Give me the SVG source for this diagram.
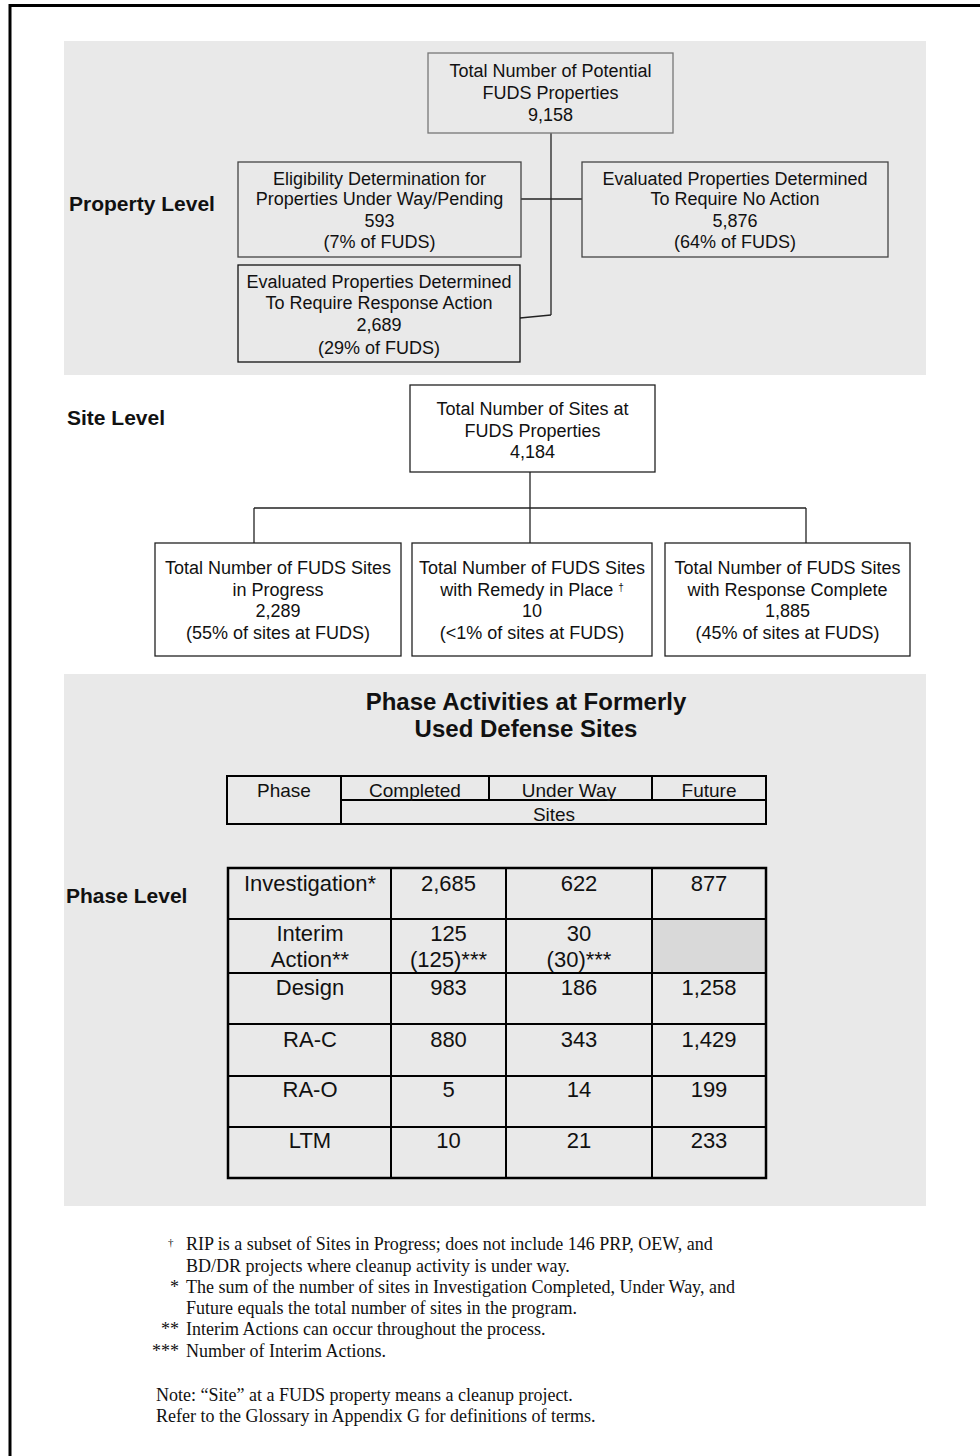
<svg xmlns="http://www.w3.org/2000/svg" width="980" height="1456" viewBox="0 0 980 1456">
<style>
.band{fill:#e9e9e9}
.box{fill:none;stroke:#444;stroke-width:1.3}
.wbox{fill:#fff;stroke:#222;stroke-width:1.3}
.t{font-family:"Liberation Sans",Arial,sans-serif;font-size:18px;fill:#111;text-anchor:middle}
.lbl{font-family:"Liberation Sans",Arial,sans-serif;font-size:21px;font-weight:bold;fill:#111}
.ttl{font-family:"Liberation Sans",Arial,sans-serif;font-size:24px;font-weight:bold;fill:#111;text-anchor:middle}
.th{font-family:"Liberation Sans",Arial,sans-serif;font-size:19px;fill:#111;text-anchor:middle}
.td{font-family:"Liberation Sans",Arial,sans-serif;font-size:22px;fill:#111;text-anchor:middle}
.fn{font-family:"Liberation Serif","Times New Roman",serif;font-size:18px;fill:#111}
.ln{stroke:#222;stroke-width:1.3;fill:none}
.tl{stroke:#000;stroke-width:2;fill:none}
</style>
<rect width="980" height="1456" fill="#fff"/>
<path d="M10 1456 V5.5 H980" fill="none" stroke="#000" stroke-width="3"/>
<rect class="band" x="64" y="41" width="862" height="334"/>
<rect class="band" x="64" y="674" width="862" height="532"/>

<g id="labels">
<text class="lbl" x="69" y="211">Property Level</text>
<text class="lbl" x="67" y="425">Site Level</text>
<text class="lbl" x="66" y="903">Phase Level</text>
</g>

<g id="connectors">
<line class="ln" x1="551" y1="133" x2="551" y2="315"/>
<line class="ln" x1="521" y1="199" x2="582" y2="199"/>
<line class="ln" x1="520" y1="318" x2="551" y2="315"/>
<line class="ln" x1="530" y1="472" x2="530" y2="543"/>
<line class="ln" x1="254" y1="508" x2="806" y2="508"/>
<line class="ln" x1="254" y1="508" x2="254" y2="543"/>
<line class="ln" x1="806" y1="508" x2="806" y2="543"/>
</g>

<g id="n-potential">
<rect class="box" x="428" y="53" width="245" height="80" style="stroke:#777"/>
<text class="t" x="550.5" y="77">Total Number of Potential</text>
<text class="t" x="550.5" y="99">FUDS Properties</text>
<text class="t" x="550.5" y="121">9,158</text>
</g>
<g id="n-eligibility">
<rect class="box" x="238" y="162" width="283" height="95"/>
<text class="t" x="379.5" y="185">Eligibility Determination for</text>
<text class="t" x="379.5" y="205">Properties Under Way/Pending</text>
<text class="t" x="379.5" y="227">593</text>
<text class="t" x="379.5" y="248">(7% of FUDS)</text>
</g>
<g id="n-noaction">
<rect class="box" x="582" y="162" width="306" height="95"/>
<text class="t" x="735" y="185">Evaluated Properties Determined</text>
<text class="t" x="735" y="205">To Require No Action</text>
<text class="t" x="735" y="227">5,876</text>
<text class="t" x="735" y="248">(64% of FUDS)</text>
</g>
<g id="n-response">
<rect class="box" x="238" y="265" width="282" height="97" style="stroke:#111"/>
<text class="t" x="379" y="288">Evaluated Properties Determined</text>
<text class="t" x="379" y="309">To Require Response Action</text>
<text class="t" x="379" y="331">2,689</text>
<text class="t" x="379" y="354">(29% of FUDS)</text>
</g>

<g id="n-sites">
<rect class="wbox" x="410" y="385" width="245" height="87"/>
<text class="t" x="532.5" y="415">Total Number of Sites at</text>
<text class="t" x="532.5" y="437">FUDS Properties</text>
<text class="t" x="532.5" y="458">4,184</text>
</g>
<g id="n-progress">
<rect class="wbox" x="155" y="543" width="246" height="113"/>
<text class="t" x="278" y="574">Total Number of FUDS Sites</text>
<text class="t" x="278" y="596">in Progress</text>
<text class="t" x="278" y="617">2,289</text>
<text class="t" x="278" y="639">(55% of sites at FUDS)</text>
</g>
<g id="n-rip">
<rect class="wbox" x="412" y="543" width="240" height="113"/>
<text class="t" x="532" y="574">Total Number of FUDS Sites</text>
<text class="t" x="532" y="596">with Remedy in Place <tspan font-size="10" dy="-5">†</tspan></text>
<text class="t" x="532" y="617">10</text>
<text class="t" x="532" y="639">(&lt;1% of sites at FUDS)</text>
</g>
<g id="n-complete">
<rect class="wbox" x="665" y="543" width="245" height="113"/>
<text class="t" x="787.5" y="574">Total Number of FUDS Sites</text>
<text class="t" x="787.5" y="596">with Response Complete</text>
<text class="t" x="787.5" y="617">1,885</text>
<text class="t" x="787.5" y="639">(45% of sites at FUDS)</text>
</g>

<g id="title">
<text class="ttl" x="526" y="710">Phase Activities at Formerly</text>
<text class="ttl" x="526" y="737">Used Defense Sites</text>
</g>

<g id="header-table">
<rect class="tl" x="227" y="776" width="539" height="48"/>
<line class="tl" x1="341" y1="776" x2="341" y2="824"/>
<line class="tl" x1="489" y1="776" x2="489" y2="800"/>
<line class="tl" x1="652" y1="776" x2="652" y2="800"/>
<line class="tl" x1="341" y1="800" x2="766" y2="800"/>
<text class="th" x="284" y="797">Phase</text>
<text class="th" x="415" y="797">Completed</text>
<text class="th" x="569" y="797">Under Way</text>
<text class="th" x="709" y="797">Future</text>
<text class="th" x="554" y="821">Sites</text>
</g>

<g id="phase-table">
<rect x="652" y="919" width="114" height="54" fill="#d9d9d9"/>
<rect class="tl" x="228" y="868" width="538" height="310" style="stroke-width:2.5"/>
<line class="tl" x1="391" y1="868" x2="391" y2="1178"/>
<line class="tl" x1="506" y1="868" x2="506" y2="1178"/>
<line class="tl" x1="652" y1="868" x2="652" y2="1178"/>
<line class="tl" x1="228" y1="919" x2="766" y2="919"/>
<line class="tl" x1="228" y1="973" x2="766" y2="973"/>
<line class="tl" x1="228" y1="1024" x2="766" y2="1024"/>
<line class="tl" x1="228" y1="1076" x2="766" y2="1076"/>
<line class="tl" x1="228" y1="1127" x2="766" y2="1127"/>
<text class="td" x="310" y="891">Investigation*</text>
<text class="td" x="448.5" y="891">2,685</text>
<text class="td" x="579" y="891">622</text>
<text class="td" x="709" y="891">877</text>
<text class="td" x="310" y="941">Interim</text>
<text class="td" x="310" y="967">Action**</text>
<text class="td" x="448.5" y="941">125</text>
<text class="td" x="448.5" y="967">(125)***</text>
<text class="td" x="579" y="941">30</text>
<text class="td" x="579" y="967">(30)***</text>
<text class="td" x="310" y="995">Design</text>
<text class="td" x="448.5" y="995">983</text>
<text class="td" x="579" y="995">186</text>
<text class="td" x="709" y="995">1,258</text>
<text class="td" x="310" y="1047">RA-C</text>
<text class="td" x="448.5" y="1047">880</text>
<text class="td" x="579" y="1047">343</text>
<text class="td" x="709" y="1047">1,429</text>
<text class="td" x="310" y="1097">RA-O</text>
<text class="td" x="448.5" y="1097">5</text>
<text class="td" x="579" y="1097">14</text>
<text class="td" x="709" y="1097">199</text>
<text class="td" x="310" y="1148">LTM</text>
<text class="td" x="448.5" y="1148">10</text>
<text class="td" x="579" y="1148">21</text>
<text class="td" x="709" y="1148">233</text>
</g>

<g id="footnotes">
<text class="fn" x="168" y="1246" style="font-size:11px">†</text>
<text class="fn" x="186" y="1250">RIP is a subset of Sites in Progress; does not include 146 PRP, OEW, and</text>
<text class="fn" x="186" y="1272">BD/DR projects where cleanup activity is under way.</text>
<text class="fn" x="179" y="1293" text-anchor="end">*</text>
<text class="fn" x="186" y="1293">The sum of the number of sites in Investigation Completed, Under Way, and</text>
<text class="fn" x="186" y="1314">Future equals the total number of sites in the program.</text>
<text class="fn" x="179" y="1335" text-anchor="end">**</text>
<text class="fn" x="186" y="1335">Interim Actions can occur throughout the process.</text>
<text class="fn" x="179" y="1357" text-anchor="end">***</text>
<text class="fn" x="186" y="1357">Number of Interim Actions.</text>
<text class="fn" x="156" y="1401">Note: “Site” at a FUDS property means a cleanup project.</text>
<text class="fn" x="156" y="1422">Refer to the Glossary in Appendix G for definitions of terms.</text>
</g>
</svg>
